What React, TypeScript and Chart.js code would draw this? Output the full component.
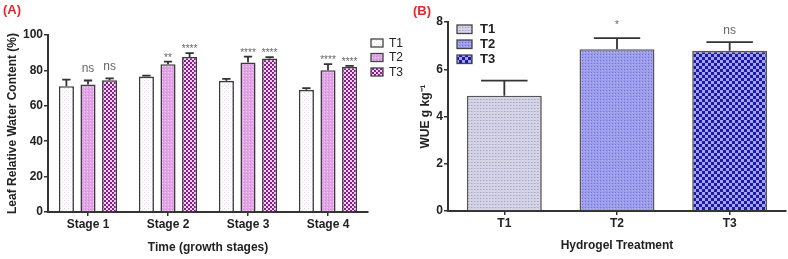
import React, { useEffect, useRef } from 'react';
import { Chart, registerables } from 'chart.js';

Chart.register(...registerables);

// ---------- Data: panel A (Leaf relative water content) ----------
const stages = ['Stage 1', 'Stage 2', 'Stage 3', 'Stage 4'];
const seriesLabels = ['T1', 'T2', 'T3'];
const lrwcT1 = [71.1, 76.5, 74.1, 69.0];
const lrwcT2 = [72.0, 83.5, 84.4, 80.1];
const lrwcT3 = [74.5, 87.6, 86.7, 82.0];
const lrwcT1Err = [3.7, 0.6, 1.1, 1.0];
const lrwcT2Err = [2.3, 1.5, 3.4, 3.4];
const lrwcT3Err = [1.0, 2.2, 0.8, 0.6];
const lrwcT1Sig = ['', '', '', ''];
const lrwcT2Sig = ['ns', '**', '****', '****'];
const lrwcT3Sig = ['ns', '****', '****', '****'];
const lrwcMin = 0;
const lrwcMax = 100;
const lrwcStep = 20;

// ---------- Data: panel B (WUE) ----------
const treatments = ['T1', 'T2', 'T3'];
const wueValues = [4.88, 6.85, 6.78];
const wueErr = [0.64, 0.47, 0.37];
const wueSig = ['', '*', 'ns'];
const wueMin = 0;
const wueMax = 8;
const wueStep = 2;

const FONT = "'Liberation Sans', Arial, Helvetica, sans-serif";
Chart.defaults.font.family = FONT;
Chart.defaults.color = '#222';

function makePattern(size: number, draw: (c: CanvasRenderingContext2D) => void) {
  const cv = document.createElement('canvas');
  cv.width = size;
  cv.height = size;
  const c = cv.getContext('2d')!;
  draw(c);
  return c.createPattern(cv, 'repeat')!;
}

const errorBars = {
  id: 'errorBars',
  afterDatasetsDraw(chart: any, _args: any, opts: any) {
    const { ctx } = chart;
    const y = chart.scales.y;
    chart.data.datasets.forEach((ds: any, di: number) => {
      const meta = chart.getDatasetMeta(di);
      const errs = ds.errors || [];
      const sig = ds.sig || [];
      meta.data.forEach((bar: any, j: number) => {
        const v = ds.data[j];
        const e = errs[j] || 0;
        const top = y.getPixelForValue(v);
        const et = y.getPixelForValue(v + e);
        const half = (bar.width * opts.cap) / 2;
        ctx.save();
        ctx.strokeStyle = opts.color;
        ctx.lineWidth = opts.lineWidth;
        ctx.beginPath();
        ctx.moveTo(bar.x, top);
        ctx.lineTo(bar.x, et);
        ctx.moveTo(bar.x - half, et);
        ctx.lineTo(bar.x + half, et);
        ctx.stroke();
        const s = sig[j];
        if (s) {
          const star = s.indexOf('*') >= 0;
          ctx.font = `${star ? opts.starSize : opts.nsSize}px ${FONT}`;
          ctx.fillStyle = opts.textColor;
          ctx.textAlign = 'center';
          ctx.textBaseline = 'alphabetic';
          ctx.fillText(s, bar.x, et - (star ? opts.starOffset : opts.nsOffset));
        }
        ctx.restore();
      });
    });
  },
};

const boxLegend = {
  id: 'boxLegend',
  afterDraw(chart: any, _args: any, opts: any) {
    const { ctx } = chart;
    let items: { label: string; fill: any }[];
    if (opts.mode === 'labels') {
      const ds = chart.data.datasets[0];
      items = chart.data.labels.map((l: string, i: number) => ({ label: l, fill: ds.backgroundColor[i] }));
    } else {
      items = chart.data.datasets.map((d: any) => ({ label: d.label, fill: d.backgroundColor }));
    }
    items.forEach((it, i) => {
      const by = opts.y + i * opts.gap;
      ctx.save();
      ctx.fillStyle = it.fill;
      ctx.fillRect(opts.x, by, opts.boxW, opts.boxH);
      ctx.strokeStyle = '#444';
      ctx.lineWidth = 1.3;
      ctx.strokeRect(opts.x, by, opts.boxW, opts.boxH);
      ctx.fillStyle = '#222';
      ctx.font = `${opts.bold ? 'bold ' : ''}${opts.fontSize}px ${FONT}`;
      ctx.textAlign = 'left';
      ctx.textBaseline = 'middle';
      ctx.fillText(it.label, opts.x + opts.boxW + opts.textGap, by + opts.boxH / 2 + 0.5);
      ctx.restore();
    });
  },
};

function axisGrid() {
  return {
    display: true,
    drawOnChartArea: false,
    drawTicks: true,
    tickLength: 4,
    color: '#333',
    lineWidth: 1.5,
    offset: false,
  };
}

export default function App() {
  const refA = useRef<HTMLCanvasElement>(null);
  const refB = useRef<HTMLCanvasElement>(null);

  useEffect(() => {
    const pA1 = makePattern(4, (c) => {
      c.fillStyle = '#fdfbfd';
      c.fillRect(0, 0, 4, 4);
      c.fillStyle = '#dcd3dc';
      c.fillRect(0, 0, 1, 1);
      c.fillStyle = '#e8e1e8';
      c.fillRect(2, 2, 1, 1);
    });
    const pA2 = makePattern(3, (c) => {
      c.fillStyle = '#e2a4e6';
      c.fillRect(0, 0, 3, 3);
      c.fillStyle = '#f3cff3';
      c.fillRect(0, 0, 1, 1);
      c.fillStyle = '#d48ed8';
      c.fillRect(1, 2, 1, 1);
    });
    const pA3 = makePattern(4, (c) => {
      c.fillStyle = '#f2d4f2';
      c.fillRect(0, 0, 4, 4);
      c.fillStyle = '#8a1c8e';
      c.fillRect(0, 0, 2, 2);
      c.fillRect(2, 2, 2, 2);
    });
    const pB1 = makePattern(3, (c) => {
      c.fillStyle = '#d4d4e6';
      c.fillRect(0, 0, 3, 3);
      c.fillStyle = '#a6a6c6';
      c.fillRect(0, 0, 1, 1);
      c.fillStyle = '#bcbcd6';
      c.fillRect(1, 0, 1, 1);
    });
    const pB2 = makePattern(3, (c) => {
      c.fillStyle = '#9c9cec';
      c.fillRect(0, 0, 3, 3);
      c.fillStyle = '#7474d4';
      c.fillRect(0, 0, 1, 1);
      c.fillStyle = '#b4b4f2';
      c.fillRect(2, 1, 1, 1);
    });
    const pB3 = makePattern(6, (c) => {
      c.fillStyle = '#a4a4f2';
      c.fillRect(0, 0, 6, 6);
      c.fillStyle = '#1a1aa4';
      c.fillRect(0, 0, 3, 3);
      c.fillRect(3, 3, 3, 3);
    });

    const chartA = new Chart(refA.current!, {
      type: 'bar',
      data: {
        labels: stages,
        datasets: [
          { label: seriesLabels[0], data: lrwcT1, errors: lrwcT1Err, sig: lrwcT1Sig, backgroundColor: pA1, borderColor: '#3c3c3c', borderWidth: 1.6 } as any,
          { label: seriesLabels[1], data: lrwcT2, errors: lrwcT2Err, sig: lrwcT2Sig, backgroundColor: pA2, borderColor: '#3c3c3c', borderWidth: 1.6 } as any,
          { label: seriesLabels[2], data: lrwcT3, errors: lrwcT3Err, sig: lrwcT3Sig, backgroundColor: pA3, borderColor: '#3c3c3c', borderWidth: 1.6 } as any,
        ],
      },
      options: {
        responsive: false,
        animation: false,
        devicePixelRatio: 1,
        layout: { padding: { left: 0, right: 37, top: 35, bottom: 0 } },
        datasets: { bar: { categoryPercentage: 0.81, barPercentage: 0.7 } },
        plugins: {
          legend: { display: false },
          tooltip: { enabled: false },
          errorBars: { cap: 0.55, color: '#333', lineWidth: 1.8, textColor: '#666', nsSize: 12, starSize: 10, nsOffset: 8, starOffset: 1 },
          boxLegend: { mode: 'datasets', x: 371, y: 39, gap: 14.5, boxW: 12, boxH: 8, textGap: 6, fontSize: 12, bold: false },
        } as any,
        scales: {
          x: {
            grid: axisGrid() as any,
            border: { display: true, color: '#333', width: 2 },
            ticks: { font: { size: 12, weight: 'bold' }, color: '#222', padding: 1 },
            title: { display: true, text: 'Time (growth stages)', font: { size: 12, weight: 'bold' }, color: '#222', padding: { top: 0, bottom: 4 } },
            afterFit: (s: any) => { s.height = 47; },
          },
          y: {
            min: lrwcMin,
            max: lrwcMax,
            grid: axisGrid() as any,
            border: { display: true, color: '#333', width: 2 },
            ticks: { stepSize: lrwcStep, font: { size: 12, weight: 'bold' }, color: '#222', padding: 1 },
            title: { display: true, text: 'Leaf Relative Water Content (%)', font: { size: 12, weight: 'bold' }, color: '#222', padding: { top: 5.5, bottom: 0 } },
            afterFit: (s: any) => { s.width = 48; },
          },
        },
      },
      plugins: [errorBars, boxLegend],
    } as any);

    const chartB = new Chart(refB.current!, {
      type: 'bar',
      data: {
        labels: treatments,
        datasets: [
          { label: 'WUE', data: wueValues, errors: wueErr, sig: wueSig, backgroundColor: [pB1, pB2, pB3], borderColor: '#555', borderWidth: 1.6 } as any,
        ],
      },
      options: {
        responsive: false,
        animation: false,
        devicePixelRatio: 1,
        layout: { padding: { left: 0, right: 2, top: 22, bottom: 0 } },
        datasets: { bar: { categoryPercentage: 1, barPercentage: 0.665 } },
        plugins: {
          legend: { display: false },
          tooltip: { enabled: false },
          errorBars: { cap: 0.62, color: '#333', lineWidth: 1.8, textColor: '#666', nsSize: 12, starSize: 10, nsOffset: 8.5, starOffset: 10 },
          boxLegend: { mode: 'labels', x: 52, y: 25, gap: 15, boxW: 15, boxH: 8.5, textGap: 8, fontSize: 13, bold: true },
        } as any,
        scales: {
          x: {
            grid: axisGrid() as any,
            border: { display: true, color: '#333', width: 2 },
            ticks: { font: { size: 12, weight: 'bold' }, color: '#222', padding: 1 },
            title: { display: true, text: 'Hydrogel Treatment', font: { size: 12, weight: 'bold' }, color: '#222', padding: { top: 0, bottom: 6 } },
            afterFit: (s: any) => { s.height = 48; },
          },
          y: {
            min: wueMin,
            max: wueMax,
            grid: axisGrid() as any,
            border: { display: true, color: '#333', width: 2 },
            ticks: { stepSize: wueStep, font: { size: 12, weight: 'bold' }, color: '#222', padding: 1 },
            title: { display: true, text: 'WUE g kg⁻¹', font: { size: 12, weight: 'bold' }, color: '#222', padding: { top: 13, bottom: 0 } },
            afterFit: (s: any) => { s.width = 43; },
          },
        },
      },
      plugins: [errorBars, boxLegend],
    } as any);

    return () => {
      chartA.destroy();
      chartB.destroy();
    };
  }, []);

  const panelLabel: React.CSSProperties = {
    position: 'absolute',
    fontFamily: FONT,
    fontWeight: 'bold',
    fontSize: 13,
    color: '#e8262a',
    lineHeight: '13px',
    zIndex: 2,
  };

  return (
    <div style={{ position: 'absolute', left: 0, top: 0, width: 788, height: 259, background: '#fff', overflow: 'hidden' }}>
      <canvas ref={refA} width={405} height={259} style={{ position: 'absolute', left: 0, top: 0, display: 'block' }} />
      <canvas ref={refB} width={383} height={259} style={{ position: 'absolute', left: 405, top: 0, display: 'block' }} />
      <div style={{ ...panelLabel, left: 3, top: 3 }}>(A)</div>
      <div style={{ ...panelLabel, left: 413, top: 4 }}>(B)</div>
    </div>
  );
}
